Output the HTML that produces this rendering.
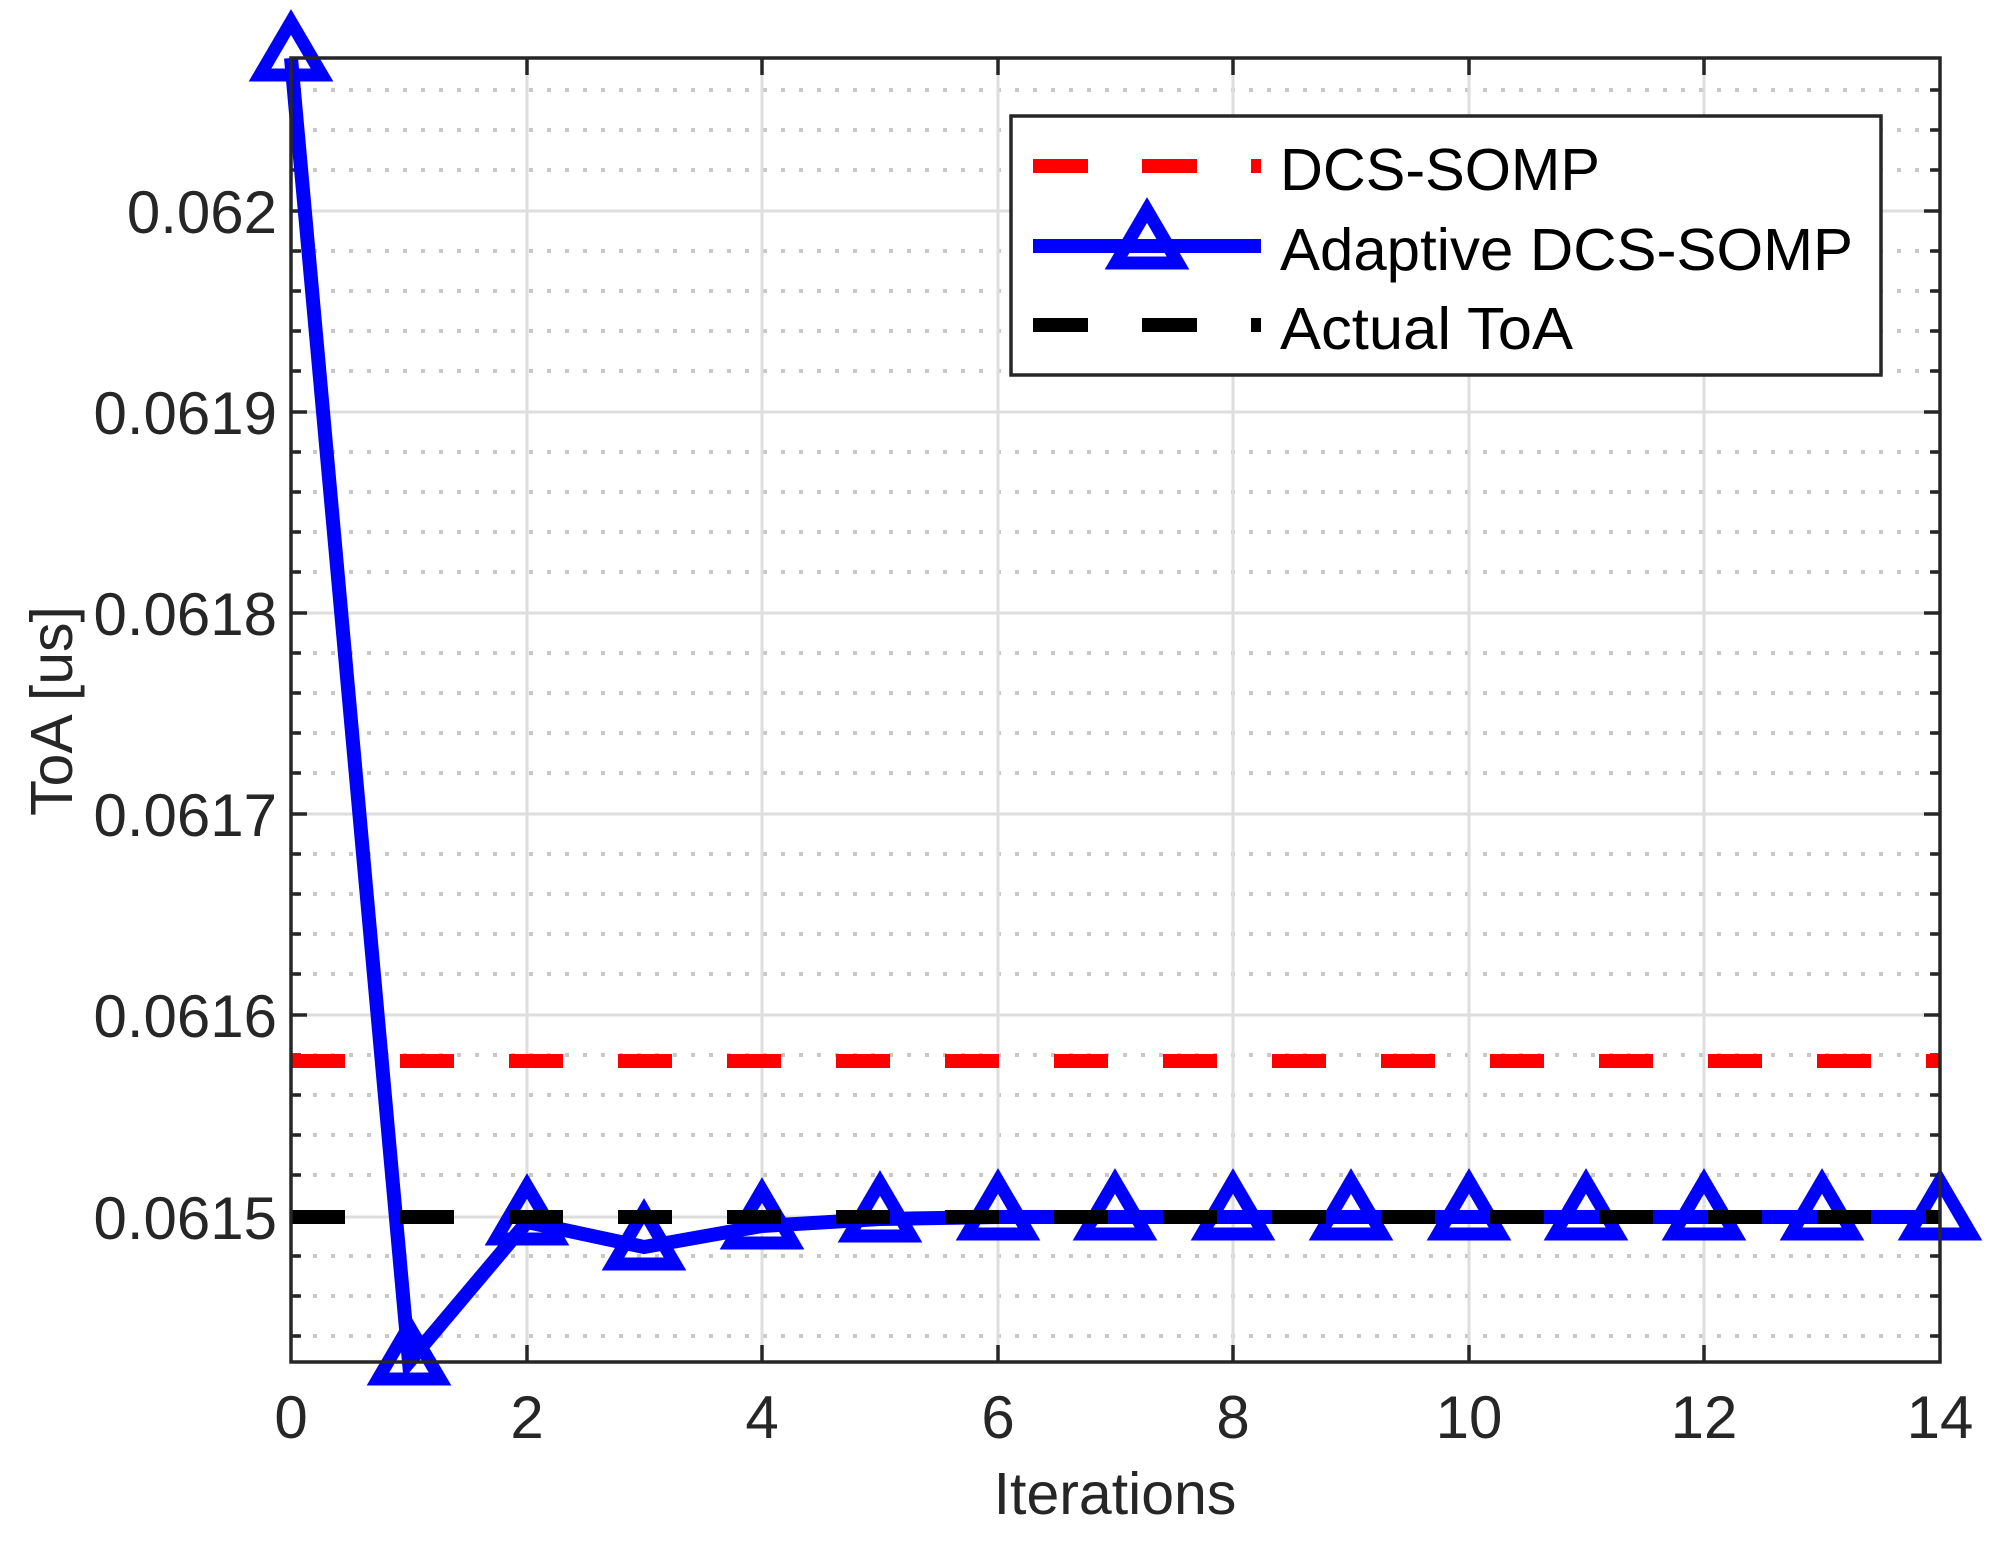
<!DOCTYPE html>
<html><head><meta charset="utf-8"><style>
html,body{margin:0;padding:0;background:#fff;}
svg{display:block;}
text{font-family:"Liberation Sans",Arial,sans-serif;}
</style></head><body>
<svg width="2009" height="1545" viewBox="0 0 2009 1545" xmlns="http://www.w3.org/2000/svg">
<rect width="2009" height="1545" fill="#fff"/>
<g stroke="#c8c8c8" stroke-width="4" stroke-dasharray="4,14">
<line x1="295" x2="1937" y1="90" y2="90"/><line x1="295" x2="1937" y1="130" y2="130"/><line x1="295" x2="1937" y1="170" y2="170"/>
<line x1="295" x2="1937" y1="251" y2="251"/><line x1="295" x2="1937" y1="291" y2="291"/><line x1="295" x2="1937" y1="331" y2="331"/><line x1="295" x2="1937" y1="371" y2="371"/>
<line x1="295" x2="1937" y1="452" y2="452"/><line x1="295" x2="1937" y1="492" y2="492"/><line x1="295" x2="1937" y1="532" y2="532"/><line x1="295" x2="1937" y1="572" y2="572"/>
<line x1="295" x2="1937" y1="653" y2="653"/><line x1="295" x2="1937" y1="693" y2="693"/><line x1="295" x2="1937" y1="733" y2="733"/><line x1="295" x2="1937" y1="773" y2="773"/>
<line x1="295" x2="1937" y1="854" y2="854"/><line x1="295" x2="1937" y1="894" y2="894"/><line x1="295" x2="1937" y1="934" y2="934"/><line x1="295" x2="1937" y1="974" y2="974"/>
<line x1="295" x2="1937" y1="1055" y2="1055"/><line x1="295" x2="1937" y1="1095" y2="1095"/><line x1="295" x2="1937" y1="1135" y2="1135"/><line x1="295" x2="1937" y1="1175" y2="1175"/>
<line x1="295" x2="1937" y1="1256" y2="1256"/><line x1="295" x2="1937" y1="1296" y2="1296"/><line x1="295" x2="1937" y1="1336" y2="1336"/>
</g>
<g stroke="#dedede" stroke-width="3">
<line x1="291" x2="1940" y1="211" y2="211"/><line x1="291" x2="1940" y1="412" y2="412"/><line x1="291" x2="1940" y1="613" y2="613"/>
<line x1="291" x2="1940" y1="814" y2="814"/><line x1="291" x2="1940" y1="1015" y2="1015"/><line x1="291" x2="1940" y1="1217" y2="1217"/>
<line x1="527" x2="527" y1="58" y2="1362"/><line x1="762" x2="762" y1="58" y2="1362"/><line x1="998" x2="998" y1="58" y2="1362"/>
<line x1="1233" x2="1233" y1="58" y2="1362"/><line x1="1469" x2="1469" y1="58" y2="1362"/><line x1="1704" x2="1704" y1="58" y2="1362"/>
</g>
<g stroke="#262626" stroke-width="3.5">
<path d="M291 211h16M291 412h16M291 613h16M291 814h16M291 1015h16M291 1217h16M1940 211h-16M1940 412h-16M1940 613h-16M1940 814h-16M1940 1015h-16M1940 1217h-16"/>
<path d="M291 90h10M291 130h10M291 170h10M291 251h10M291 291h10M291 331h10M291 371h10M291 452h10M291 492h10M291 532h10M291 572h10M291 653h10M291 693h10M291 733h10M291 773h10M291 854h10M291 894h10M291 934h10M291 974h10M291 1055h10M291 1095h10M291 1135h10M291 1175h10M291 1256h10M291 1296h10M291 1336h10"/>
<path d="M1940 90h-10M1940 130h-10M1940 170h-10M1940 251h-10M1940 291h-10M1940 331h-10M1940 371h-10M1940 452h-10M1940 492h-10M1940 532h-10M1940 572h-10M1940 653h-10M1940 693h-10M1940 733h-10M1940 773h-10M1940 854h-10M1940 894h-10M1940 934h-10M1940 974h-10M1940 1055h-10M1940 1095h-10M1940 1135h-10M1940 1175h-10M1940 1256h-10M1940 1296h-10M1940 1336h-10"/>
<path d="M527 1362v-17M762 1362v-17M998 1362v-17M1233 1362v-17M1469 1362v-17M1704 1362v-17M527 58v17M762 58v17M998 58v17M1233 58v17M1469 58v17M1704 58v17"/>
</g>
<line x1="291" x2="1940" y1="1061" y2="1061" stroke="#ff0000" stroke-width="14" stroke-dasharray="54,55"/>
<g stroke="#0000ff" fill="none" stroke-width="14" stroke-linejoin="miter">
<polyline points="291,58 409,1362 527,1222 644,1247 762,1226 880,1219 998,1217 1115,1217 1233,1217 1351,1217 1469,1217 1586,1217 1704,1217 1822,1217 1940,1217"/>
</g>
<defs><path id="tri" d="M0 -36 L31 17 L-31 17 Z" fill="none" stroke="#0000ff" stroke-width="13" stroke-linejoin="miter"/></defs>
<use href="#tri" x="291" y="58"/><use href="#tri" x="409" y="1362"/><use href="#tri" x="527" y="1222"/>
<use href="#tri" x="644" y="1247"/><use href="#tri" x="762" y="1226"/><use href="#tri" x="880" y="1219"/>
<use href="#tri" x="998" y="1217"/><use href="#tri" x="1115" y="1217"/><use href="#tri" x="1233" y="1217"/>
<use href="#tri" x="1351" y="1217"/><use href="#tri" x="1469" y="1217"/><use href="#tri" x="1586" y="1217"/>
<use href="#tri" x="1704" y="1217"/><use href="#tri" x="1822" y="1217"/><use href="#tri" x="1940" y="1217"/>
<line x1="291" x2="1940" y1="1217" y2="1217" stroke="#000" stroke-width="14" stroke-dasharray="54,55"/>
<rect x="291" y="58" width="1649" height="1304" fill="none" stroke="#262626" stroke-width="3.5"/>
<g fill="#262626" font-size="60" text-anchor="end">
<text x="277" y="233">0.062</text><text x="277" y="434">0.0619</text><text x="277" y="635">0.0618</text>
<text x="277" y="836">0.0617</text><text x="277" y="1037">0.0616</text><text x="277" y="1239">0.0615</text>
</g>
<g fill="#262626" font-size="60" text-anchor="middle">
<text x="291" y="1438">0</text><text x="527" y="1438">2</text><text x="762" y="1438">4</text><text x="998" y="1438">6</text>
<text x="1233" y="1438">8</text><text x="1469" y="1438">10</text><text x="1704" y="1438">12</text><text x="1940" y="1438">14</text>
</g>
<text x="1115" y="1514" fill="#262626" font-size="59" text-anchor="middle">Iterations</text>
<text transform="translate(72,711) rotate(-90)" fill="#262626" font-size="59" text-anchor="middle">ToA [us]</text>
<rect x="1011" y="116" width="870" height="259" fill="#fff" stroke="#262626" stroke-width="3.5"/>
<line x1="1033" x2="1261" y1="166" y2="166" stroke="#ff0000" stroke-width="14" stroke-dasharray="55,54"/>
<line x1="1033" x2="1261" y1="246" y2="246" stroke="#0000ff" stroke-width="14"/>
<path d="M1147 -36 L1178 17 L1116 17 Z" transform="translate(0,246)" fill="none" stroke="#0000ff" stroke-width="13"/>
<line x1="1033" x2="1261" y1="325" y2="325" stroke="#000" stroke-width="14" stroke-dasharray="55,54"/>
<g fill="#000" font-size="59">
<text x="1280" y="190" textLength="320" lengthAdjust="spacingAndGlyphs">DCS-SOMP</text>
<text x="1280" y="270" textLength="573" lengthAdjust="spacingAndGlyphs">Adaptive DCS-SOMP</text>
<text x="1280" y="349" textLength="293" lengthAdjust="spacingAndGlyphs">Actual ToA</text>
</g>
</svg>
</body></html>
